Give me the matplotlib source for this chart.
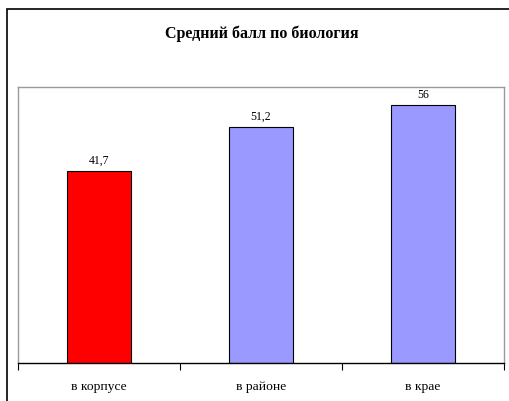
import matplotlib
matplotlib.use("Agg")
import matplotlib.pyplot as plt
from matplotlib.patches import Rectangle

categories = ["в корпусе", "в районе", "в крае"]
values = [41.7, 51.2, 56]
labels = ["41,7", "51,2", "56"]
colors = ["#FF0000", "#9999FF", "#9999FF"]
title = "Средний балл по биология"

W, H = 510, 402
fig = plt.figure(figsize=(W / 100, H / 100), dpi=100)
plt.rcParams["font.family"] = ["Liberation Serif", "DejaVu Serif"]

# outer chart border
fig.patches.append(Rectangle((7 / W, -0.1), 1.0, (H - 10) / H + 0.1,
                             transform=fig.transFigure, fill=False,
                             edgecolor="black", linewidth=1.2))

ax = fig.add_axes([18 / W, (H - 364) / H, (504 - 18) / W, (364 - 88) / H])
x = list(range(len(categories)))
ax.bar(x, values, width=0.4, color=colors, edgecolor="black", linewidth=0.8)
ax.set_xlim(-0.5, 2.5)
ax.set_ylim(0, 60)
for xi, v, lab in zip(x, values, labels):
    ax.text(xi, v + 1.2, lab, ha="center", va="bottom", fontsize=8.5)

ax.set_yticks([])
ax.set_xticks([-0.5, 0.5, 1.5, 2.5], minor=False)
ax.set_xticklabels([])
ax.set_xticks(x, minor=True)
ax.set_xticklabels(categories, minor=True, fontsize=9.7)
ax.tick_params(axis="x", which="major", length=5, width=0.8, direction="out")
ax.tick_params(axis="x", which="minor", length=0, pad=12)

for s in ["top", "right", "left"]:
    ax.spines[s].set_color("#999999")
    ax.spines[s].set_linewidth(1)
ax.spines["bottom"].set_color("black")
ax.spines["bottom"].set_linewidth(1)

fig.text(262 / W, 1 - 33.5 / H, title, ha="center", va="center",
         fontsize=11.5, fontweight="bold")

fig.savefig("out.png", dpi=100)
